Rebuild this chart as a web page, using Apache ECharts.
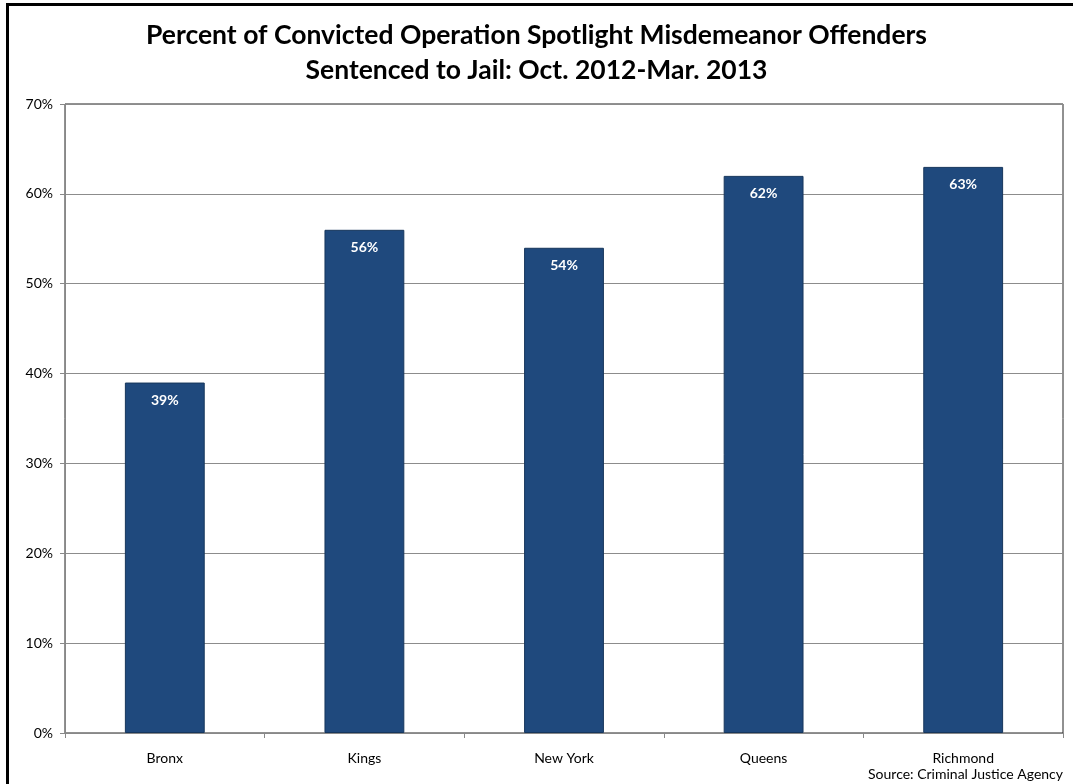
<!DOCTYPE html>
<html>
<head>
<meta charset="utf-8">
<script src="https://cdn.jsdelivr.net/npm/echarts@6/dist/echarts.min.js"></script>
<style>
  html, body { margin: 0; padding: 0; background: #fff; }
  #chart { width: 1073px; height: 784px; }
</style>
</head>
<body>
<div id="chart"></div>
<script>
// Boroughs and share of convicted misdemeanor offenders sentenced to jail (%)
const boroughs = ['Bronx', 'Kings', 'New York', 'Queens', 'Richmond'];
const jailPercent = [39, 56, 54, 62, 63];
const yTicks = [0, 10, 20, 30, 40, 50, 60, 70];

const FONT = 'Lato, "Open Sans", sans-serif';

const chart = echarts.init(document.getElementById('chart'), null, { renderer: 'canvas' });

chart.setOption({
  backgroundColor: '#ffffff',
  animation: false,
  title: {
    text: 'Percent of Convicted Operation Spotlight Misdemeanor Offenders\nSentenced to Jail: Oct. 2012-Mar. 2013',
    left: 'center',
    top: 13,
    textStyle: {
      fontFamily: FONT,
      fontSize: 26.5,
      fontWeight: 'bold',
      color: '#000',
      lineHeight: 35
    }
  },
  graphic: [
    {
      type: 'rect',
      shape: { x: 7.5, y: 4.5, width: 1100, height: 800 },
      style: { fill: 'none', stroke: '#000', lineWidth: 3 },
      silent: true
    },
    {
      type: 'text',
      right: 10,
      top: 767,
      style: {
        text: 'Source: Criminal Justice Agency',
        fontFamily: FONT,
        fontSize: 14,
        fill: '#000'
      }
    }
  ],
  grid: {
    left: 65,
    right: 10,
    top: 104,
    bottom: 51,
    show: true,
    borderColor: '#222',
    borderWidth: 1
  },
  xAxis: {
    type: 'category',
    data: boroughs,
    axisLine: { show: true, lineStyle: { color: '#888', width: 1 } },
    axisTick: { show: true, alignWithLabel: false, length: 5, lineStyle: { color: '#888' } },
    axisLabel: { fontFamily: FONT, fontSize: 14, color: '#000', margin: 18 },
    splitLine: { show: false }
  },
  yAxis: {
    type: 'value',
    min: 0,
    max: 70,
    interval: 10,
    axisLine: { show: true, lineStyle: { color: '#888', width: 1 } },
    axisTick: { show: true, length: 5, lineStyle: { color: '#888' } },
    axisLabel: {
      fontFamily: FONT,
      fontSize: 14,
      color: '#000',
      margin: 12,
      formatter: v => (yTicks.includes(v) ? v + '%' : '')
    },
    splitLine: { show: true, lineStyle: { color: '#8c8c8c', width: 1 } }
  },
  series: [
    {
      type: 'bar',
      data: jailPercent,
      barWidth: '40%',
      itemStyle: { color: '#1F497D', borderColor: '#16365C', borderWidth: 1 },
      label: {
        show: true,
        position: 'insideTop',
        distance: 11,
        formatter: p => p.value + '%',
        fontFamily: FONT,
        fontSize: 14,
        fontWeight: 'bold',
        color: '#fff'
      }
    }
  ]
});
</script>
</body>
</html>
